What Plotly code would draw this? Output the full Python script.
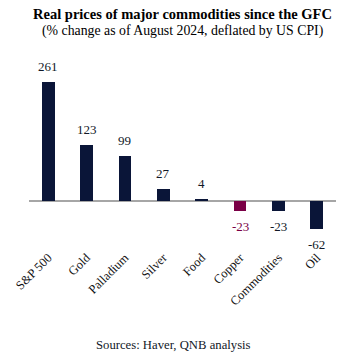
import plotly.graph_objects as go

categories = ["S&P 500", "Gold", "Palladium", "Silver", "Food", "Copper", "Commodities", "Oil"]
values = [261, 123, 99, 27, 4, -23, -23, -62]
highlight = "Copper"

title_text = "Real prices of major commodities since the GFC"
subtitle_text = "(% change as of August 2024, deflated by US CPI)"
source_text = "Sources: Haver, QNB analysis"

NAVY = "#0A1538"
MAROON = "#7A0046"
SERIF = "Liberation Serif, Times New Roman, serif"

colors = [MAROON if c == highlight else NAVY for c in categories]
label_colors = [MAROON if c == highlight else "#111827" for c in categories]

fig = go.Figure()
fig.add_trace(go.Bar(
    x=categories, y=values, marker=dict(color=colors, line=dict(width=0)),
    width=0.33, hoverinfo="skip",
))

for c, v, lc in zip(categories, values, label_colors):
    fig.add_annotation(
        x=c, y=v, text=str(v), showarrow=False,
        yanchor="bottom" if v >= 0 else "top",
        yshift=6 if v >= 0 else -6,
        font=dict(family=SERIF, size=13, color=lc),
    )

# plot area: top 60px, bottom 247px -> height 187px
PB, PH = 247, 187
fig.add_annotation(
    xref="paper", yref="paper", x=0.5, y=(PB - 14) / PH, yanchor="middle",
    text="<b>" + title_text + "</b>", showarrow=False,
    font=dict(family=SERIF, size=14.5, color="#000000"),
)
fig.add_annotation(
    xref="paper", yref="paper", x=0.5, y=(PB - 31) / PH, yanchor="middle",
    text=subtitle_text, showarrow=False,
    font=dict(family=SERIF, size=13.8, color="#000000"),
)
fig.add_annotation(
    xref="paper", yref="paper", x=0.47, y=-(345 - PB) / PH, yanchor="middle",
    text=source_text, showarrow=False,
    font=dict(family=SERIF, size=12.7, color="#111827"),
)

fig.update_layout(
    width=353, height=359,
    margin=dict(l=29, r=17, t=60, b=359 - PB),
    paper_bgcolor="white", plot_bgcolor="white",
    showlegend=False,
    bargap=0,
    xaxis=dict(
        range=[-0.5, 7.5], showline=False, showgrid=False, ticks="",
        tickangle=-45, tickfont=dict(family=SERIF, size=12.5, color="#111111"),
        fixedrange=True,
    ),
    yaxis=dict(
        range=[-(PB - 201) / 0.456, 309], visible=True, showticklabels=False, showgrid=False,
        showline=False, ticks="", zeroline=True, zerolinecolor="#A6A6A6", zerolinewidth=2,
    ),
)

fig.write_html("out.html")
